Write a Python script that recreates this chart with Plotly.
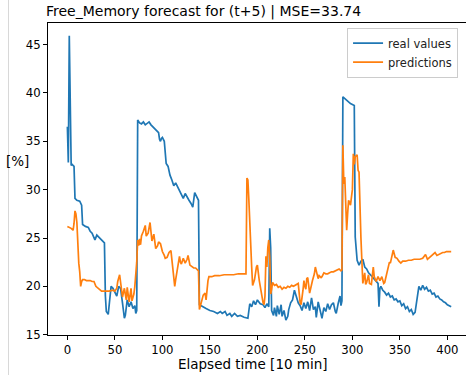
import plotly.graph_objects as go

# ---- data ----
real_x = [0, 1, 2, 4, 5, 7, 8, 10, 13, 15, 16, 19, 22, 24, 26, 28, 29, 31, 33, 36, 39, 40, 41, 43, 44,
          46, 48, 50, 52, 54, 56, 58, 59, 60, 61, 62, 63, 65, 67, 69, 71, 72, 73,
          74, 76, 78, 80, 82, 84, 86, 88, 90, 92, 94, 96, 97, 98, 99, 100, 102, 104, 106, 108,
          110, 112, 114, 116, 118, 120, 122, 124, 126, 128, 130, 132, 134, 136, 138,
          139, 142, 146, 150, 154, 158, 161, 163, 166, 168, 171, 173, 176, 179, 182, 186, 190,
          192, 194, 196, 198, 200, 203, 206, 208, 210, 212, 213, 214, 215, 217, 218, 220, 221,
          223, 225, 226, 228, 230, 232, 233, 235, 237, 239, 241, 243, 245, 247, 249, 251, 253,
          255, 257, 259, 261, 262, 264, 266, 268, 270, 272, 274, 276, 278, 280, 282, 283, 285,
          287, 288, 289, 290, 292, 294, 296, 298, 300, 302, 303, 305, 307, 309, 311, 313, 315,
          317, 319, 321, 323, 325, 327, 328, 329, 330, 332, 334, 336, 338, 340, 342, 344, 346,
          348, 350, 352, 354, 356, 358, 360, 362, 364, 366, 368, 370, 372, 374, 376, 378, 380,
          382, 384, 386, 388, 390, 392, 394, 396, 398, 400, 402, 404]
real_y = [36.5, 32.8, 45.9, 32.5, 32.6, 32.4, 29.1, 28.9, 28.8, 28.4, 26.4, 26.2, 26.1, 25.7, 25.5,
          25.0, 24.8, 25.3, 25.1, 24.9, 24.5, 19.0, 17.4, 17.1, 18.0,
          20.0, 19.8, 19.3, 19.0, 20.0, 19.8, 18.3, 17.2, 16.7, 17.0, 18.3, 18.6, 17.9, 18.4,
          17.7, 18.0, 17.2, 17.5,
          37.2, 36.9, 36.8, 37.0, 36.7, 36.9, 37.0, 36.7, 36.5, 36.4, 36.2, 35.9, 35.2, 35.0,
          35.3, 35.4, 35.0, 32.7, 32.4, 31.5,
          31.0, 30.4, 30.7, 30.3, 30.0, 29.6, 29.1, 29.6, 29.2, 28.9, 28.6, 28.2, 29.7, 29.3, 28.9,
          18.1, 17.9, 17.7, 17.5, 17.4, 17.2, 17.4, 17.2, 17.4, 17.0, 17.2, 16.9, 17.2, 16.9,
          17.0, 16.8, 16.7,
          18.2, 17.9, 18.5, 18.1, 18.6, 18.2, 18.1, 17.8, 18.2, 17.9, 26.0, 24.0, 17.5, 17.0,
          17.8, 16.9, 18.0,
          17.1, 18.1, 16.9, 17.5, 16.5, 16.9, 17.6, 18.3, 18.6, 19.6, 18.9, 18.3, 18.0, 17.5,
          18.3, 17.7, 18.4,
          17.5, 18.8, 17.6, 17.9, 16.8, 18.4, 17.5, 16.7, 17.8, 17.4, 18.2, 17.6, 18.1, 18.3,
          17.4, 17.2, 18.2,
          19.0, 18.0, 18.5, 39.6, 39.4, 39.2, 39.0, 38.9, 38.8, 38.7, 25.1, 22.7, 22.2, 22.6,
          22.8, 22.0, 21.8,
          21.4, 21.2, 21.0, 20.8, 20.5, 20.3, 17.9, 19.8, 20.0, 19.6, 19.4, 19.1, 19.3, 18.9,
          19.0, 18.6, 18.7,
          18.4, 18.5, 18.0, 18.2, 17.7, 17.9, 17.4, 17.6, 17.1, 17.3, 18.5, 20.0, 19.6, 20.1,
          19.7, 19.9, 19.5,
          19.6, 19.2, 19.3, 18.9, 19.0, 18.7, 18.6, 18.4, 18.3, 18.1, 18.0, 17.9]

pred_x = [0, 2, 4, 6, 7, 8, 9, 10, 11, 12, 13, 14, 15, 16, 18, 20, 22, 24, 26, 28, 30, 32, 34, 36,
          40, 44, 48, 50, 52, 53, 55, 56, 58, 60, 62, 63, 65, 67, 68, 70, 71, 73,
          74, 75, 76, 77, 78, 80, 82, 83, 85, 87, 88, 89, 91, 93, 95, 96, 98, 100, 102, 103, 105,
          107, 109, 111, 113, 114, 116, 118, 119, 120, 122, 124, 126, 127, 129, 131, 133, 135,
          137, 138, 139, 140, 141, 143, 145, 146, 148, 149, 152, 155, 160, 165, 170, 175, 180,
          185, 188, 189, 190, 191, 193, 194, 195, 197, 199, 200, 202, 204, 206, 207, 208, 209,
          210, 211, 212, 213, 214, 215, 216, 218, 220, 222, 224, 226, 228, 230, 232, 234, 236,
          238, 240, 242, 243, 245, 246, 248, 249, 250, 251, 252, 253, 255, 256, 258, 260, 261,
          262, 264, 265, 267, 268, 270, 272, 274, 276, 278, 280, 282, 284, 286, 288, 289,
          290, 291, 292, 293, 294, 295, 296, 298, 299, 300, 301, 302, 303, 305, 306, 307, 309,
          311, 312, 313, 314, 315, 317, 318, 320, 321, 322, 323, 325, 327, 329, 331, 333, 334,
          336, 338, 339, 340, 342, 343, 345, 347, 349, 351, 353, 356, 359, 362, 365, 368, 371,
          374, 376, 377, 379, 381, 383, 385, 387, 389, 391, 393, 395, 397, 399, 401, 403, 404]
pred_y = [26.2, 26.1, 26.0, 25.8, 26.5, 27.8, 27.5, 26.6, 24.0, 22.4, 21.5, 20.0, 20.5, 20.7, 20.7,
          20.6, 20.6, 20.6, 20.5, 20.5, 20.0, 19.8, 19.6, 19.5,
          19.5, 19.5, 19.6, 19.5, 19.8, 20.5, 21.2, 20.3, 18.9, 19.8, 18.6, 19.9, 18.4, 19.8,
          18.5, 19.2, 20.0, 22.5,
          24.8, 24.2, 24.9, 24.3, 25.2, 25.7, 26.3, 25.2, 25.5, 26.6, 25.3, 24.7, 25.4, 23.9,
          24.2, 24.6, 24.4, 23.6, 23.2, 22.9, 23.0,
          23.5, 23.7, 21.8, 20.0, 20.7, 22.0, 23.1, 22.5, 22.3, 22.9, 22.4, 22.8, 23.2, 22.2,
          22.0, 21.9, 21.9,
          21.7, 21.6, 17.6, 18.0, 18.3, 19.1, 19.3, 18.6, 20.6, 21.0, 21.0, 21.1, 21.1, 21.2,
          21.2, 21.2, 21.3,
          21.3, 21.3, 31.2, 31.0, 29.0, 22.7, 22.0, 20.1, 20.7, 22.0, 22.2, 20.6, 19.3, 18.3,
          18.1, 19.0, 23.1,
          22.0, 24.0, 24.8, 23.0, 19.2, 19.7, 20.4, 20.1, 20.2, 19.9, 20.0, 19.7, 19.9, 19.8,
          20.0, 19.9, 20.1,
          20.0, 20.1, 20.2, 20.3, 18.3, 18.1, 19.6, 20.6, 20.0, 19.7, 20.8, 20.9, 19.3, 19.8,
          20.6, 21.3, 22.0,
          21.6, 20.8, 21.1, 20.9, 21.0, 21.4, 21.3, 21.3, 21.4, 21.5, 21.5, 21.6, 21.7, 21.8,
          21.6, 21.7,
          34.6, 30.6, 31.3, 29.0, 25.8, 27.5, 28.9, 28.4, 29.6, 30.0, 33.7, 32.6, 33.4, 33.6,
          32.0, 31.8, 25.0,
          20.3, 20.9, 21.4, 20.2, 20.4, 21.2, 20.3, 20.2, 21.5, 22.0, 21.0, 20.5, 21.0, 20.6,
          21.0, 20.3, 20.4,
          21.3, 22.0, 22.5, 22.4, 23.2, 23.75, 23.0, 22.9, 22.6, 22.4, 22.6, 22.6, 22.7, 22.7,
          22.8, 22.8, 22.8,
          22.9, 23.2, 23.3, 22.8, 23.0, 23.1, 23.4, 23.5, 23.2, 23.3, 23.4, 23.5, 23.5, 23.6,
          23.6, 23.6, 23.6]

x_ticks = [0, 50, 100, 150, 200, 250, 300, 350, 400]
y_ticks = [15, 20, 25, 30, 35, 40, 45]

title_text = "Free_Memory forecast for (t+5) | MSE=33.74"
x_label = "Elapsed time [10 min]"
y_label = "[%]"

FONT = "DejaVu Sans"

fig = go.Figure()
fig.add_trace(go.Scatter(x=real_x, y=real_y, mode="lines", name="real values",
                         line=dict(color="#1f77b4", width=1.7)))
fig.add_trace(go.Scatter(x=pred_x, y=pred_y, mode="lines", name="predictions",
                         line=dict(color="#ff7f0e", width=1.7)))

fig.update_layout(
    width=466, height=375,
    margin=dict(l=48, r=0, t=23, b=40),
    paper_bgcolor="white", plot_bgcolor="white",
    font=dict(family=FONT, color="black", size=12),
    title=dict(text=title_text, x=46 / 466, xanchor="left", xref="container",
               y=1 - 11 / 375, yanchor="middle", yref="container",
               font=dict(size=14, family=FONT, color="black")),
    showlegend=True,
    legend=dict(x=0.981, y=0.985, xanchor="right", yanchor="top",
                bgcolor="rgba(255,255,255,0.8)", bordercolor="#cccccc", borderwidth=1,
                font=dict(size=11.5, family=FONT, color="#222222"),
                tracegroupgap=0, itemwidth=30),
    xaxis=dict(range=[-20.4, 419.6], tickmode="array", tickvals=x_ticks,
               ticks="outside", ticklen=4, tickwidth=1, tickcolor="black",
               showline=True, linecolor="black", linewidth=1, mirror=True,
               showgrid=False, zeroline=False,
               tickfont=dict(size=11.7, family=FONT, color="black")),
    yaxis=dict(range=[14.97, 47.23], tickmode="array", tickvals=y_ticks,
               ticks="outside", ticklen=4, tickwidth=1, tickcolor="black",
               showline=True, linecolor="black", linewidth=1, mirror=False,
               showgrid=False, zeroline=False,
               tickfont=dict(size=11.7, family=FONT, color="black")),
    annotations=[
        dict(text=x_label, xref="paper", yref="paper", x=(253 - 48) / 418,
             y=(335 - 364) / 312, xanchor="center", yanchor="middle", showarrow=False,
             font=dict(size=13.5, family=FONT, color="black")),
        dict(text=y_label, xref="paper", yref="paper", x=(17 - 48) / 418,
             y=(335 - 161) / 312, xanchor="center", yanchor="middle", showarrow=False,
             font=dict(size=13.5, family=FONT, color="black")),
    ],
    shapes=[dict(type="line", xref="paper", yref="paper", x0=(8.5 - 48) / 418, x1=(8.5 - 48) / 418,
                 y0=-40 / 312, y1=335 / 312, line=dict(color="#d8d8d8", width=1))],
)

fig.write_html("out.html", config={"displayModeBar": False},
               post_script="document.body.style.margin='0';")
